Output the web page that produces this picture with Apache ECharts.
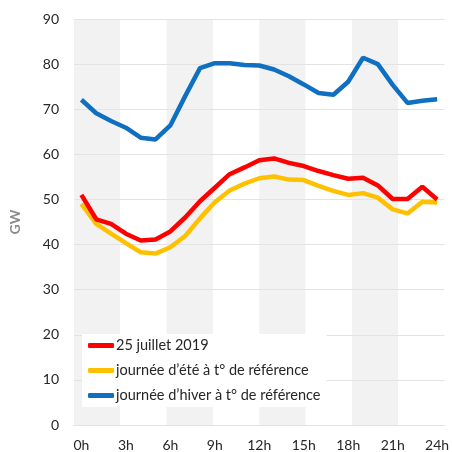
<!DOCTYPE html>
<html>
<head>
<meta charset="utf-8">
<script src="https://cdn.jsdelivr.net/npm/echarts@6/dist/echarts.min.js"></script>
<style>
  html, body { margin: 0; padding: 0; background: #fff; }
  #chart { width: 452px; height: 452px; }
</style>
</head>
<body>
<div id="chart"></div>
<script>
// heures 0h..24h
var hours = ['0h','1h','2h','3h','4h','5h','6h','7h','8h','9h','10h','11h','12h',
             '13h','14h','15h','16h','17h','18h','19h','20h','21h','22h','23h','24h'];
// bandes de 3 heures (fond alterné)
var bands = ['0-3','3-6','6-9','9-12','12-15','15-18','18-21','21-24'];

var juillet = [51, 45.6, 44.6, 42.4, 40.9, 41.1, 42.9, 46, 49.6, 52.6, 55.6, 57.1, 58.7,
               59.1, 58.1, 57.4, 56.3, 55.4, 54.6, 54.8, 53.1, 50.1, 50.1, 52.8, 50];
var ete = [49, 44.6, 42.4, 40.3, 38.3, 38, 39.4, 41.9, 45.8, 49.4, 52, 53.5, 54.7,
           55.1, 54.4, 54.3, 53, 51.9, 51, 51.4, 50.4, 47.8, 46.9, 49.5, 49.3];
var hiver = [72.1, 69.1, 67.4, 65.9, 63.7, 63.3, 66.4, 72.9, 79.1, 80.2, 80.2, 79.8, 79.7,
             78.8, 77.3, 75.5, 73.6, 73.2, 76.1, 81.4, 80, 75.4, 71.4, 71.9, 72.2];

var FONT = 'Lato';
var chart = echarts.init(document.getElementById('chart'));

chart.setOption({
  animation: false,
  backgroundColor: '#ffffff',
  textStyle: { fontFamily: FONT },
  grid: { left: 68, right: 5, top: 19, bottom: 25 },
  legend: {
    orient: 'vertical',
    left: 82,
    top: 334,
    backgroundColor: '#ffffff',
    padding: [4, 6, 4, 6],
    itemWidth: 26,
    itemHeight: 5,
    itemGap: 10,
    icon: 'roundRect',
    textStyle: { fontFamily: FONT, fontSize: 14.5, color: '#262626', padding: [0, 0, 0, -3] },
    data: ['25 juillet 2019', 'journée d’été à t° de référence', 'journée d’hiver à t° de référence']
  },
  xAxis: [
    {
      type: 'category',
      data: hours,
      boundaryGap: true,
      axisTick: { show: false },
      axisLine: { show: true, lineStyle: { color: '#d9d9d9' } },
      axisLabel: {
        interval: 2,
        margin: 13,
        fontFamily: FONT,
        fontSize: 14,
        color: '#262626'
      },
      splitLine: { show: false }
    },
    {
      // fond en bandes grises, sous le quadrillage
      type: 'category',
      data: bands,
      position: 'bottom',
      boundaryGap: true,
      z: -1,
      axisTick: { show: false },
      axisLine: { show: false },
      axisLabel: { show: false },
      splitArea: { show: true, areaStyle: { color: ['#f2f2f2', '#ffffff'] } }
    }
  ],
  yAxis: {
    type: 'value',
    min: 0,
    max: 90,
    interval: 10,
    z: 1,
    name: 'GW',
    nameLocation: 'middle',
    nameRotate: 90,
    nameGap: 52,
    nameTextStyle: { fontFamily: FONT, fontSize: 14, fontWeight: 'bold', color: '#8c8c8c' },
    axisLine: { show: false },
    axisTick: { show: false },
    axisLabel: { margin: 15, fontFamily: FONT, fontSize: 14, color: '#262626' },
    splitLine: { lineStyle: { color: '#e3e3e3', width: 1 } }
  },
  series: [
    {
      name: '25 juillet 2019',
      type: 'line',
      data: juillet,
      showSymbol: false,
      symbol: 'none',
      z: 4,
      lineStyle: { width: 4.5, color: '#ff0000' },
      itemStyle: { color: '#ff0000' }
    },
    {
      name: 'journée d’été à t° de référence',
      type: 'line',
      data: ete,
      showSymbol: false,
      symbol: 'none',
      z: 3,
      lineStyle: { width: 4.5, color: '#ffc000' },
      itemStyle: { color: '#ffc000' }
    },
    {
      name: 'journée d’hiver à t° de référence',
      type: 'line',
      data: hiver,
      showSymbol: false,
      symbol: 'none',
      z: 3,
      lineStyle: { width: 4.5, color: '#0f6fc0' },
      itemStyle: { color: '#0f6fc0' }
    }
  ]
});
</script>
</body>
</html>
